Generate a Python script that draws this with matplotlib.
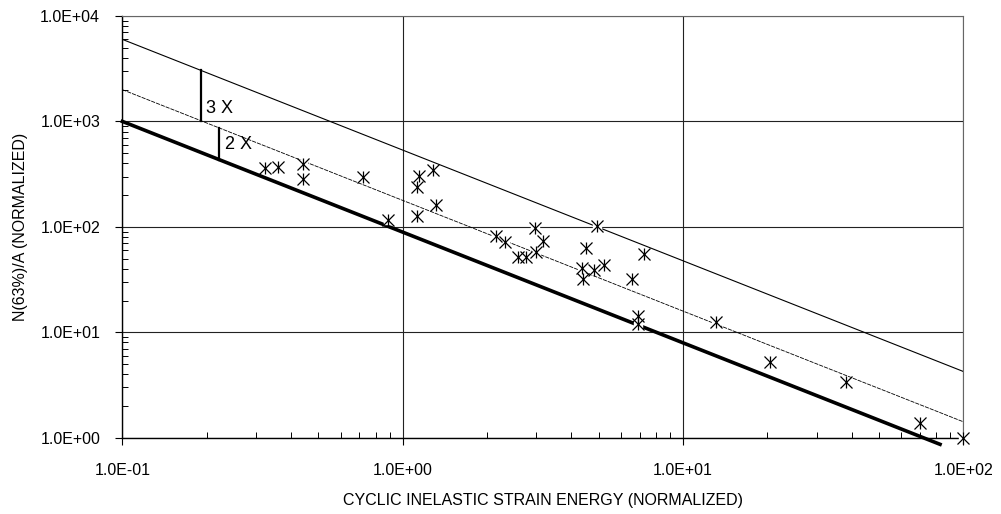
import numpy as np
import matplotlib.pyplot as plt
from matplotlib.ticker import LogLocator, FuncFormatter, NullFormatter

plt.rcParams['font.family'] = ['Liberation Sans', 'DejaVu Sans']

# measured points (normalized strain energy, normalized life)
energy = [0.322, 0.358, 0.44, 0.44, 0.72, 0.884, 1.147, 1.126, 1.28, 1.31, 1.126,
          2.96, 4.94, 2.16, 2.31, 3.17, 2.57, 2.76, 3.0, 4.51, 7.24, 4.37, 4.8,
          5.21, 4.40, 6.56, 6.92, 6.92, 13.1, 20.5, 38.3, 70.3, 100.0]
life = [359, 367, 394, 284, 295, 116, 303, 237, 344, 160, 126,
        98, 102, 81.8, 71.3, 73.8, 51.4, 52, 58, 63.4, 55.2, 40.4, 38.9,
        43.4, 32, 32, 14.3, 12, 12.6, 5.18, 3.35, 1.37, 1.0]

# design curves: N = c * (E/0.1)^slope
slope = -1.05
x_fit = [0.1, 100.0]
x_low_end = 82.6
c_low = 1000.0   # lower bound (thick)
c_mid = 2000.0   # 2X line (dashed)
c_top = 6000.0   # 3X above the 2X line

# ratio markers
bar3_x = 0.190
bar2_x = 0.221


def curve(c, x):
    x = np.asarray(x)
    return c * (x / 0.1) ** slope


fig = plt.figure(figsize=(10.01, 5.14), dpi=100)
ax = fig.add_axes([122.4 / 1001, 1 - 437.7 / 514, (963.3 - 122.4) / 1001, (437.7 - 16) / 514])
ax.set_xscale('log')
ax.set_yscale('log')
ax.set_xlim(0.1, 100)
ax.set_ylim(1, 1e4)

ax.grid(True, which='major', color='#222222', linewidth=0.8)
ax.set_axisbelow(True)

xl = [0.1, x_low_end]
ax.plot(xl, curve(c_low, xl), color='black', linewidth=2.6, clip_on=False, zorder=3)
ax.plot(x_fit, curve(c_mid, x_fit), color='black', linewidth=0.6, dashes=(5, 1.2), zorder=3)
ax.plot(x_fit, curve(c_top, x_fit), color='black', linewidth=0.8, zorder=3)

ax.plot([bar3_x, bar3_x], [curve(c_mid, bar3_x), curve(c_top, bar3_x)], color='black', linewidth=1.6, zorder=3)
ax.plot([bar2_x, bar2_x], [curve(c_low, bar2_x), curve(c_mid, bar2_x)], color='black', linewidth=1.6, zorder=3)
ax.text(bar3_x * 1.05, 1330, '3 X', fontsize=13, va='center', ha='left')
ax.text(bar2_x * 1.05, 600, '2 X', fontsize=13, va='center', ha='left')

# star markers with a white patch behind them
ax.plot(energy, life, linestyle='none', marker='s', markersize=6, color='white', zorder=4, clip_on=False)
ax.plot(energy, life, linestyle='none', marker='x', markersize=8, color='black', markeredgewidth=0.9, zorder=5, clip_on=False)
ax.plot(energy, life, linestyle='none', marker='|', markersize=9, color='black', markeredgewidth=0.9, zorder=5, clip_on=False)

fmt = FuncFormatter(lambda v, p: f"{v:.1E}")
ax.xaxis.set_major_locator(LogLocator(base=10, numticks=10))
ax.yaxis.set_major_locator(LogLocator(base=10, numticks=10))
ax.xaxis.set_minor_locator(LogLocator(base=10, subs=np.arange(2, 10), numticks=20))
ax.yaxis.set_minor_locator(LogLocator(base=10, subs=np.arange(2, 10), numticks=20))
ax.xaxis.set_major_formatter(fmt)
ax.yaxis.set_major_formatter(fmt)
ax.xaxis.set_minor_formatter(NullFormatter())
ax.yaxis.set_minor_formatter(NullFormatter())
ax.tick_params(which='major', direction='out', length=5, width=0.8, labelsize=11.5, pad=13)
ax.tick_params(axis='y', which='major', pad=11)
ax.tick_params(which='minor', direction='in', length=4, width=0.7)

for s in ['top', 'right']:
    ax.spines[s].set_color('#666666')
for s in ['left', 'bottom']:
    ax.spines[s].set_color('black')
    ax.spines[s].set_linewidth(1.0)

ax.set_xlabel('CYCLIC INELASTIC STRAIN ENERGY (NORMALIZED)', fontsize=11.5, labelpad=11)
ax.set_ylabel('N(63%)/A (NORMALIZED)', fontsize=11.5, labelpad=9)

fig.savefig('out.png', dpi=100)
